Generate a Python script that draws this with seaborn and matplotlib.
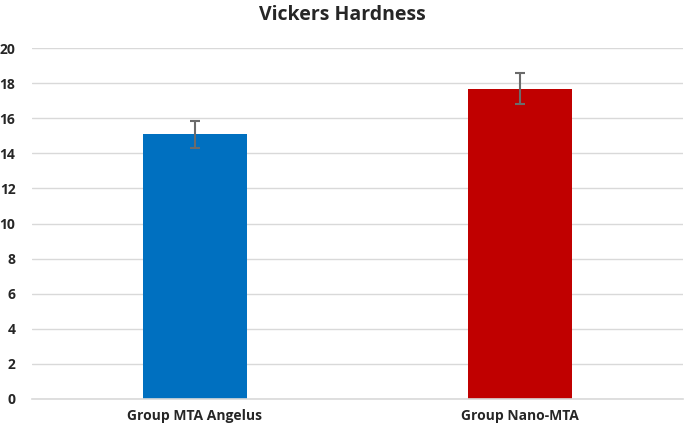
import numpy as np
import pandas as pd
import matplotlib
matplotlib.use("Agg")
import matplotlib.pyplot as plt
import seaborn as sns

# Data
groups = ["Group MTA Angelus", "Group Nano-MTA"]
hardness_mean = [15.1, 17.67]
hardness_sd = [0.77, 0.88]
bar_colors = ["#0070C0", "#C00000"]
y_ticks = [0, 2, 4, 6, 8, 10, 12, 14, 16, 18, 20]

df = pd.DataFrame({"group": groups, "hardness": hardness_mean})

sns.set_style("white")
plt.rcParams["font.family"] = ["Open Sans", "DejaVu Sans"]

fig = plt.figure(figsize=(6.85, 4.29), dpi=100)
ax = fig.add_axes([0.047, 0.070, 0.950, 0.818])

sns.barplot(data=df, x="group", y="hardness", hue="group", palette=bar_colors,
            saturation=1, width=0.32, legend=False, errorbar=None, ax=ax,
            linewidth=0, zorder=2)

# Error bars
ax.errorbar(x=np.arange(len(groups)), y=hardness_mean, yerr=hardness_sd,
            fmt="none", ecolor="#6b6b6b", elinewidth=1.5, capsize=3.4, capthick=1.5, zorder=3)

ax.set_ylim(0, 20)
ax.set_xlim(-0.5, 1.5)
ax.set_yticks(y_ticks)
ax.set_yticklabels([str(t) for t in y_ticks], fontsize=10, fontweight="bold")
ax.set_xticks(range(len(groups)))
ax.set_xticklabels(groups, fontsize=10, fontweight="bold")
ax.tick_params(axis="y", length=0, pad=12)
ax.tick_params(axis="x", length=0, pad=7)
ax.set_xlabel("")
ax.set_ylabel("")

ax.grid(axis="y", color="#d9d9d9", linewidth=1, zorder=0)
ax.set_axisbelow(True)
for side in ["left", "right", "top"]:
    ax.spines[side].set_visible(False)
ax.spines["bottom"].set_color("#d9d9d9")
ax.spines["bottom"].set_linewidth(1.2)

fig.text(0.5, 0.965, "Vickers Hardness", ha="center", va="center",
         fontsize=14, fontweight="bold")

fig.savefig("out.png", dpi=100)
